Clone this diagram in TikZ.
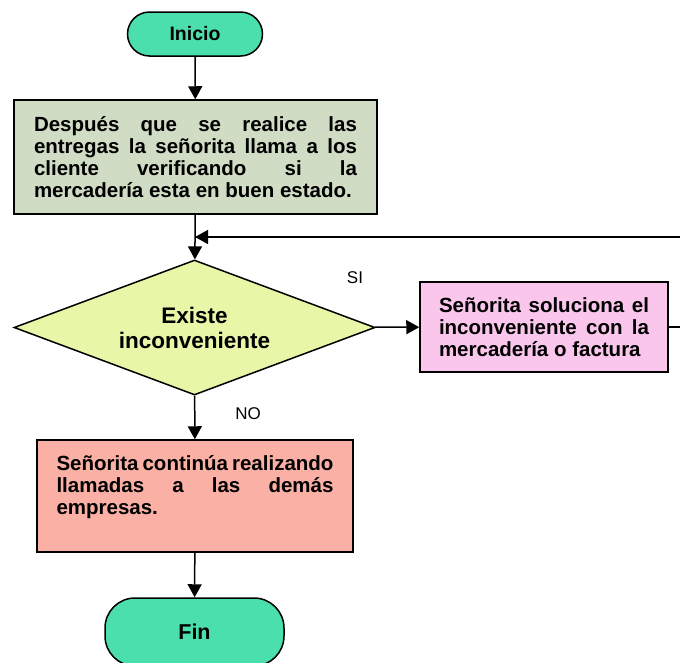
\documentclass[tikz,border=0pt]{standalone}
\usepackage{fontspec}
\setmainfont{Liberation Sans}
\usetikzlibrary{arrows.meta,shapes.geometric}

\definecolor{terminal}{RGB}{76,223,174}
\definecolor{procgris}{RGB}{208,220,196}
\definecolor{decision}{RGB}{232,246,168}
\definecolor{procrosa}{RGB}{250,198,236}
\definecolor{procsalmon}{RGB}{250,176,164}

\begin{document}
\begin{tikzpicture}[x=1pt, y=-1pt,
        every node/.style={font=\fontsize{20.5}{22}\selectfont\bfseries},
        terminal/.style={draw, line width=1.5pt, fill=terminal, rounded corners=22pt, inner sep=0pt},
        proceso/.style={draw, line width=1.5pt, align=justify, inner sep=0pt},
        flecha/.style={line width=1.5pt, -{Triangle[length=13pt, width=14pt]}},
        etiqueta/.style={font=\fontsize{17}{18}\selectfont}]
        \useasboundingbox (0,0) rectangle (680,662);
        \clip (0,0) rectangle (680,662);

        \node[terminal, minimum width=135pt, minimum height=44pt, font=\fontsize{19.5}{22}\selectfont\bfseries] (inicio) at (195,34) {Inicio};
        \node[proceso, fill=procgris, minimum width=363pt, minimum height=114pt, text width=323pt] (entregas) at (195.5,157)
            {Después que se realice las\linebreak entregas la señorita llama a los\linebreak cliente verificando si la\linebreak mercadería esta en buen estado.};
        \node[diamond, aspect=2.67, draw, line width=1.5pt, fill=decision, inner sep=0pt, minimum width=361pt, minimum height=135pt,
            align=center, font=\fontsize{22.5}{25}\selectfont\bfseries] (existe) at (194.5,327.5) {Existe\\inconveniente};
        \node[proceso, fill=procrosa, minimum width=248pt, minimum height=90pt, text width=210pt] (soluciona) at (544,327)
            {Señorita soluciona el\linebreak inconveniente con la\linebreak mercadería o factura};
        \node[proceso, fill=procsalmon, minimum width=316pt, minimum height=112pt, text width=277pt] (continua) at (195,496)
            {Señorita continúa realizando\linebreak llamadas a las demás\linebreak empresas.\\ \mbox{}};
        \node[terminal, minimum width=179pt, minimum height=68pt, rounded corners=30pt,
            font=\fontsize{21.5}{24}\selectfont\bfseries] (fin) at (194.5,632) {Fin};

        \node[etiqueta] (si) at (355,278) {SI};
        \node[etiqueta] (no) at (248,414) {NO};
        \coordinate (retorno) at (195,237);

        \draw[flecha] (inicio) -- (entregas);
        \draw[flecha] (entregas) -- (existe);
        \draw[flecha] (existe) -- (soluciona);
        \draw[flecha] (existe) -- (continua);
        \draw[flecha] (soluciona.east) -- ++(30,0) |- (retorno);
        \draw[flecha] (continua) -- (fin);
    \end{tikzpicture}
\end{document}
